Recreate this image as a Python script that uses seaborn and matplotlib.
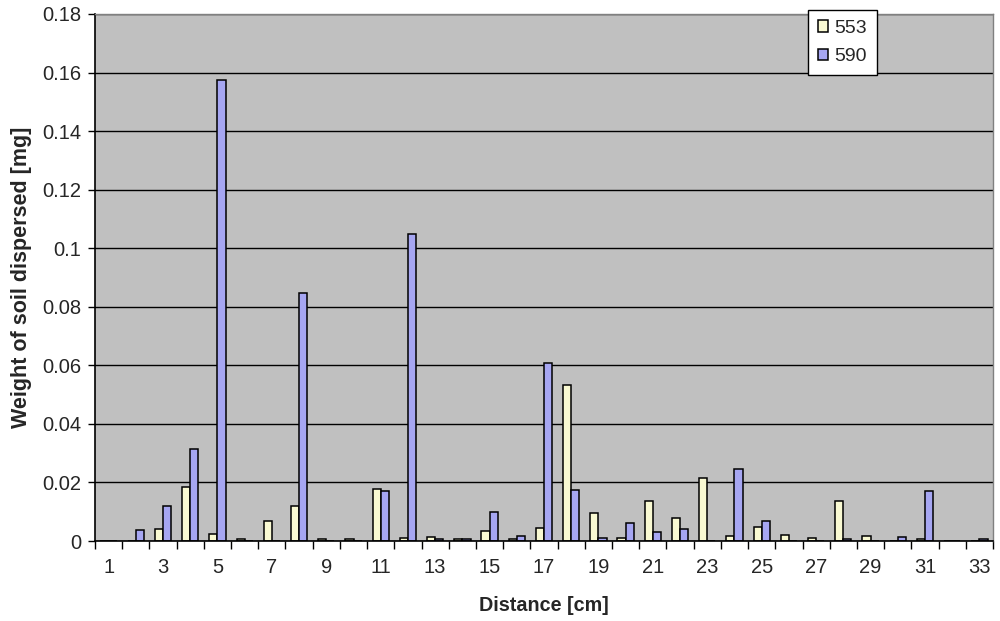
import matplotlib
matplotlib.use("Agg")
import matplotlib.pyplot as plt
import numpy as np
import pandas as pd
import seaborn as sns

distance = list(range(1, 34))
s553 = [0, 0, 0.0042, 0.0184, 0.0025, 0.0006, 0.0067, 0.0120, 0.0006, 0.0006,
        0.0177, 0.0009, 0.0015, 0.0006, 0.0033, 0.0006, 0.0046, 0.0533, 0.0094,
        0.0012, 0.0136, 0.0079, 0.0214, 0.0018, 0.0049, 0.0019, 0.0009, 0.0137,
        0.0016, 0, 0.0006, 0, 0]
s590 = [0, 0.0037, 0.0120, 0.0314, 0.1575, 0, 0, 0.0847, 0, 0,
        0.0170, 0.1048, 0.0006, 0.0006, 0.0098, 0.0016, 0.0608, 0.0174, 0.0012,
        0.0060, 0.0030, 0.0041, 0, 0.0245, 0.0068, 0, 0, 0.0006,
        0, 0.0014, 0.0171, 0, 0.0006]

df = pd.DataFrame({
    "Distance": [str(d) for d in distance] * 2,
    "Weight": s553 + s590,
    "Series": ["553"] * len(distance) + ["590"] * len(distance),
})

sns.set_theme(style="ticks")
plt.rcParams["font.family"] = ["Liberation Sans", "DejaVu Sans"]

fig = plt.figure(figsize=(10, 6.21), dpi=100)
ax = fig.add_axes([0.095, 0.1288, 0.898, 0.8487])
ax.set_facecolor("#C0C0C0")

sns.barplot(
    data=df, x="Distance", y="Weight", hue="Series",
    order=[str(d) for d in distance],
    palette={"553": "#FFFFCC", "590": "#9999FF"},
    edgecolor="black", linewidth=1.1, width=0.6, ax=ax,
)

ax.set_ylim(0, 0.18)
ax.set_xlim(-0.5, len(distance) - 0.5)
ax.set_yticks(np.arange(0, 0.181, 0.02))
ax.set_yticklabels(["0", "0.02", "0.04", "0.06", "0.08", "0.1",
                    "0.12", "0.14", "0.16", "0.18"])
ax.yaxis.grid(True, color="black", linewidth=1)
ax.set_axisbelow(True)

ax.set_xticks(range(len(distance)))
ax.set_xticklabels([str(d) if d % 2 == 1 else "" for d in distance])
ax.set_xticks(np.arange(-0.5, len(distance), 1), minor=True)
ax.tick_params(axis="x", which="major", length=0, pad=12, labelsize=14.5)
ax.tick_params(axis="x", which="minor", length=6, width=1, color="black")
ax.tick_params(axis="y", length=5, width=1, color="black", labelsize=14.5, pad=5)

for side in ["left", "bottom"]:
    ax.spines[side].set_color("black")
    ax.spines[side].set_linewidth(1.2)
for side in ["top", "right"]:
    ax.spines[side].set_visible(True)
    ax.spines[side].set_color("#808080")
    ax.spines[side].set_linewidth(1)

ax.set_xlabel("Distance [cm]", fontsize=14.2, fontweight="bold", labelpad=14)
ax.set_ylabel("Weight of soil dispersed [mg]", fontsize=15.5, fontweight="bold", labelpad=7)

leg = ax.legend(
    loc="upper left", bbox_to_anchor=(0.794, 1.0076), fontsize=14,
    frameon=True, fancybox=False, framealpha=1, edgecolor="black",
    handlelength=0.55, handleheight=0.55, handletextpad=0.3,
    borderpad=0.5, labelspacing=0.6, borderaxespad=0,
)
leg.get_frame().set_linewidth(1)

fig.savefig("out.png", dpi=100)
